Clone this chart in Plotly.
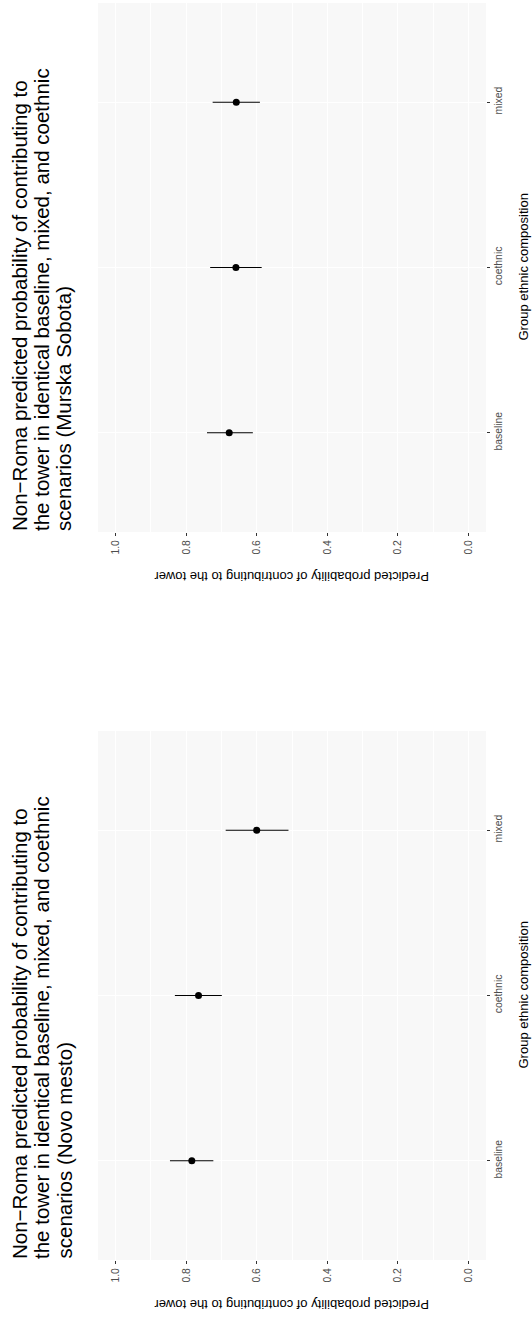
import plotly.graph_objects as go

# ---- data ----
categories = ["baseline", "coethnic", "mixed"]

ms_est = [0.678, 0.659, 0.658]
ms_low = [0.611, 0.586, 0.591]
ms_high = [0.741, 0.732, 0.725]

nm_est = [0.784, 0.765, 0.600]
nm_low = [0.723, 0.699, 0.510]
nm_high = [0.846, 0.832, 0.688]

value_ticks = [0.0, 0.2, 0.4, 0.6, 0.8, 1.0]
value_ticktext = ["0.0", "0.2", "0.4", "0.6", "0.8", "1.0"]
minor_ticks = [0.1, 0.3, 0.5, 0.7, 0.9]

title_ms = ["Non\u2212Roma predicted probability of contributing to",
            "the tower in identical baseline, mixed, and coethnic",
            "scenarios (Murska Sobota)"]
title_nm = ["Non\u2212Roma predicted probability of contributing to",
            "the tower in identical baseline, mixed, and coethnic",
            "scenarios (Novo mesto)"]
value_title = "Predicted probability of contributing to the tower"
cat_title = "Group ethnic composition"

# ---- layout geometry (pixels) ----
W, H = 532, 1319
px_left, px_right = 98, 486
panels = [(3, 532), (731, 1260)]  # top, bottom (pixel y)

FONT = "Liberation Sans, Arial, sans-serif"

def py(y):
    return 1 - y / H

def px(x):
    return x / W

fig = go.Figure()

datasets = [(ms_est, ms_low, ms_high), (nm_est, nm_low, nm_high)]
for i, (est, low, high) in enumerate(datasets):
    suffix = "" if i == 0 else str(i + 1)
    fig.add_trace(go.Scatter(
        x=est, y=categories, mode="markers",
        marker=dict(color="black", size=7),
        error_x=dict(type="data", symmetric=False,
                     array=[h - e for h, e in zip(high, est)],
                     arrayminus=[e - l for e, l in zip(est, low)],
                     color="black", thickness=1.1, width=0),
        xaxis="x" + suffix, yaxis="y" + suffix, showlegend=False,
        hoverinfo="skip"))

layout = dict(
    width=W, height=H, margin=dict(l=0, r=0, t=0, b=0),
    paper_bgcolor="white", plot_bgcolor="#F8F8F8",
    font=dict(family=FONT, color="black"),
    showlegend=False,
)

for i, (ytop, ybot) in enumerate(panels):
    suffix = "" if i == 0 else str(i + 1)
    xa = dict(
        domain=[px(px_left), px(px_right)], range=[1.05, -0.05],
        anchor="y" + suffix, tickmode="array", tickvals=value_ticks,
        ticktext=value_ticktext, tickangle=-90,
        tickfont=dict(size=10.4, color="#4D4D4D", family=FONT),
        ticks="outside", ticklen=3, tickcolor="#333333", tickwidth=1,
        showgrid=True, gridcolor="white", gridwidth=1.1,
        minor=dict(tickvals=minor_ticks, showgrid=True, gridcolor="white",
                   gridwidth=0.55, ticks=""),
        zeroline=False, showline=False, fixedrange=True,
    )
    ya = dict(
        domain=[py(ybot), py(ytop)], anchor="x" + suffix, side="right",
        type="category", categoryorder="array", categoryarray=categories,
        range=[-0.6, 2.6], tickangle=-90,
        tickfont=dict(size=10.4, color="#4D4D4D", family=FONT),
        ticks="outside", ticklen=3, tickcolor="#333333", tickwidth=1,
        showgrid=True, gridcolor="white", gridwidth=1.1,
        zeroline=False, showline=False, fixedrange=True,
    )
    layout["xaxis" + suffix] = xa
    layout["yaxis" + suffix] = ya

fig.update_layout(**layout)

annotations = []
for (ytop, ybot), tlines in zip(panels, [title_ms, title_nm]):
    for k, line in enumerate(tlines):
        annotations.append(dict(
            text=line, x=px(19.5 + 22 * k), y=py(ybot), xref="paper", yref="paper",
            xanchor="center", yanchor="bottom", textangle=-90, showarrow=False,
            font=dict(size=20.5, color="black", family=FONT), borderpad=0))
    annotations.append(dict(
        text=value_title, x=px((px_left + px_right) / 2), y=py(ybot + 45),
        xref="paper", yref="paper", xanchor="center", yanchor="middle",
        textangle=180, showarrow=False,
        font=dict(size=13, color="black", family=FONT)))
    annotations.append(dict(
        text=cat_title, x=px(523), y=py((ytop + ybot) / 2),
        xref="paper", yref="paper", xanchor="center", yanchor="middle",
        textangle=-90, showarrow=False,
        font=dict(size=13, color="black", family=FONT)))

fig.update_layout(annotations=annotations)

fig.write_html("out.html")
